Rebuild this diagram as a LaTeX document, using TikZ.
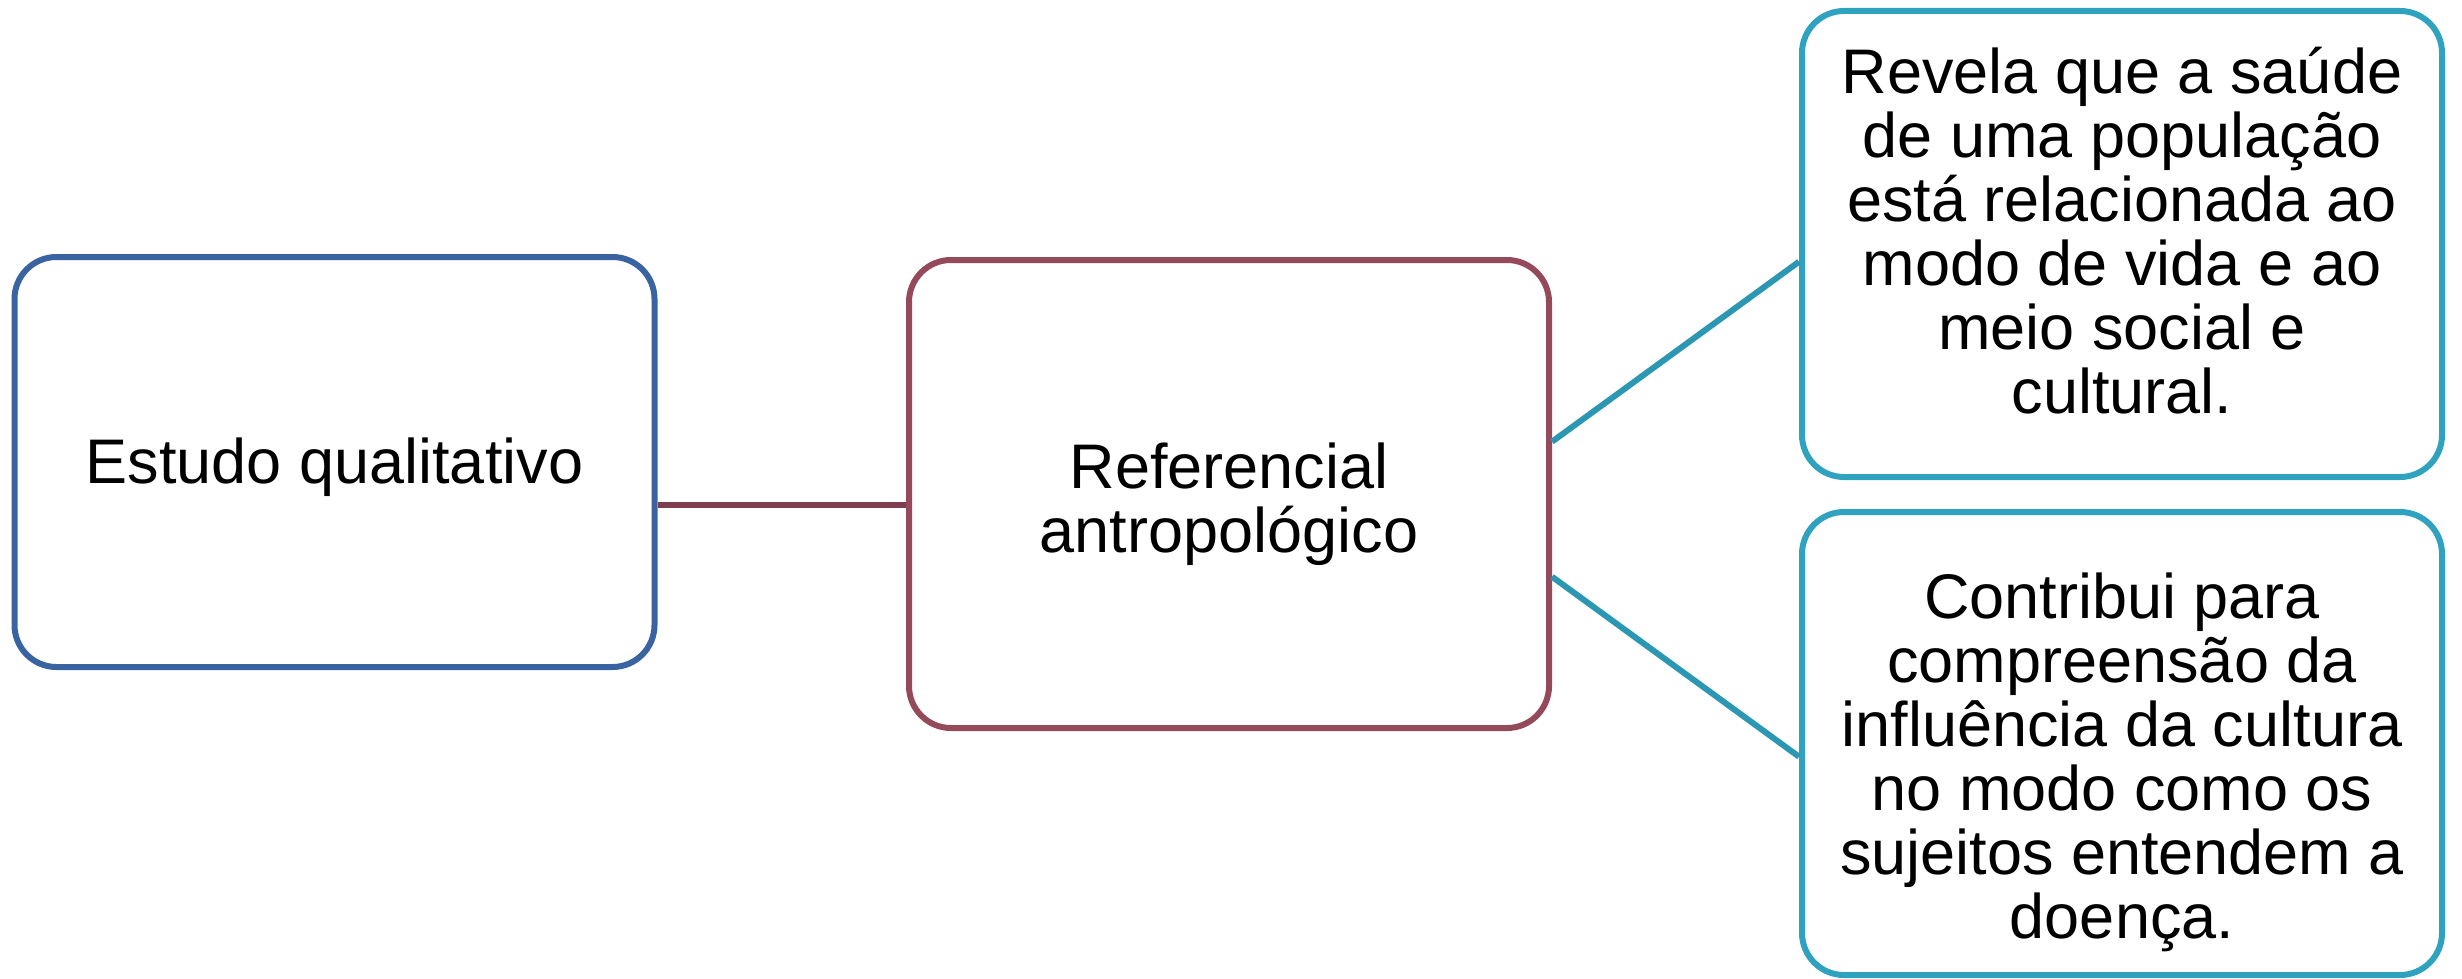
\documentclass[tikz,border=0pt]{standalone}
\usepackage{fontspec}
\setmainfont{Liberation Sans}
\definecolor{bblue}{HTML}{3A64A1}
\definecolor{bmaroon}{HTML}{954A5B}
\definecolor{lmaroon}{HTML}{7F3E4F}
\definecolor{bteal}{HTML}{2FA2C0}
\definecolor{lteal}{HTML}{2B97B3}
\tikzset{
  box/.style={draw=#1, line width=6pt, rounded corners=42pt, fill=white,
    minimum width=640pt, inner sep=0pt},
  lbl/.style={align=center, inner sep=0pt, text=black,
    font=\fontsize{63}{64}\selectfont},
  conn/.style={line width=6pt}
}
\begin{document}
\begin{tikzpicture}[x=1pt,y=-1pt]
\useasboundingbox (0,0) rectangle (2462,979);
\node[box=bblue, minimum height=410pt] (b1) at (334.5,462) {};
\node[box=bmaroon, minimum height=468pt] (b2) at (1229,494) {};
\node[box=bteal, minimum height=466pt] (b3) at (2122,244) {};
\node[box=bteal, minimum height=463pt] (b4) at (2122,743.5) {};
\node[lbl] (t1) at (334.5,467) {Estudo qualitativo};
\node[lbl] (t2) at (1229,504) {Referencial\\antropológico};
\node[lbl] (t3) at (2122,231) {Revela que a saúde\\de uma população\\está relacionada ao\\modo de vida e ao\\meio social e\\cultural.};
\node[lbl] (t4) at (2122,762) {Contribui para\\compreensão da\\influência da cultura\\no modo como os\\sujeitos entendem a\\doença.};
\coordinate (y1) at (0,505);
\coordinate (y2) at (0,441.7);
\coordinate (y3) at (0,261.7);
\coordinate (y4) at (0,576.7);
\coordinate (y5) at (0,756.7);
\draw[conn, lmaroon] (b1.east |- y1) -- (b2.west |- y1);
\draw[conn, lteal] (b2.east |- y2) -- (b3.west |- y3);
\draw[conn, lteal] (b2.east |- y4) -- (b4.west |- y5);
\end{tikzpicture}
\end{document}
